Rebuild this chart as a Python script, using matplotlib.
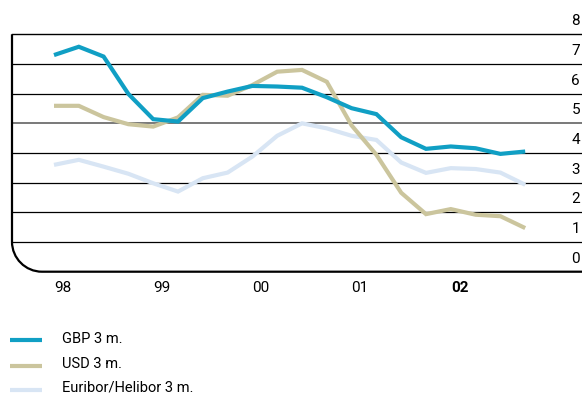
import matplotlib
matplotlib.use("Agg")
import matplotlib.pyplot as plt
import numpy as np
from matplotlib.path import Path
from matplotlib.patches import PathPatch

plt.rcParams["font.family"] = ["Roboto", "DejaVu Sans"]

# Quarterly 3-month interest rates, Q1 1998 .. Q4 2002 (%)
quarters = 1998 + np.arange(20) / 4
gbp = [7.30, 7.58, 7.25, 5.99, 5.14, 5.06, 5.85, 6.07, 6.26, 6.24,
       6.20, 5.88, 5.51, 5.31, 4.53, 4.14, 4.22, 4.16, 3.97, 4.05]
usd = [5.59, 5.59, 5.21, 4.97, 4.89, 5.20, 5.96, 5.93, 6.29, 6.74,
       6.80, 6.40, 4.93, 3.94, 2.66, 1.94, 2.11, 1.92, 1.87, 1.47]
euribor = [3.60, 3.77, 3.54, 3.30, 2.98, 2.70, 3.15, 3.34, 3.88, 4.58,
           5.00, 4.83, 4.58, 4.44, 3.68, 3.33, 3.49, 3.46, 3.34, 2.93]

years = [1998, 1999, 2000, 2001, 2002]
year_labels = ["98", "99", "00", "01", "02"]
y_ticks = [0, 1, 2, 3, 4, 5, 6, 7, 8]

series = [
    ("Euribor/Helibor 3 m.", euribor, "#d8e5f4"),
    ("USD 3 m.", usd, "#cbc59d"),
    ("GBP 3 m.", gbp, "#109fc4"),
]

W, H = 582, 394
fig = plt.figure(figsize=(W / 100, H / 100), dpi=100)
ax = fig.add_axes([12 / W, (H - 271.7) / H, 1 - 12 / W, (271.7 - 34.3) / H])
ax.set_xlim(1998 + (12 - 54) / 99.2, 1998 + (582 - 54) / 99.2)
ax.set_ylim(0, 8)
ax.axis("off")

# horizontal rules, the 5 % one in grey
for v in y_ticks[1:-1]:
    if v == 5:
        ax.axhline(v, color="#6e6e6e", lw=1.3, zorder=1)
    else:
        ax.axhline(v, color="black", lw=0.9, zorder=1)
ax.axhline(8, color="black", lw=1.0, zorder=1, clip_on=False)

# left edge with rounded bottom-left corner and heavier base line
rx, ry = 30 / 570, 30 / 237.4
k = 0.5523
frame = Path(
    [(0, 1), (0, ry), (0, ry * (1 - k)), (rx * (1 - k), 0), (rx, 0), (1, 0)],
    [Path.MOVETO, Path.LINETO, Path.CURVE4, Path.CURVE4, Path.CURVE4, Path.LINETO],
)
ax.add_patch(PathPatch(frame, transform=ax.transAxes, fill=False,
                       lw=1.6, edgecolor="black", clip_on=False, zorder=2))

for name, vals, color in series:
    ax.plot(quarters, vals, color=color, lw=3.0, solid_capstyle="butt",
            solid_joinstyle="miter", zorder=3)

# value labels sit just above each rule at the right edge
for v in y_ticks:
    ax.annotate(str(v), xy=(1, v), xycoords=("axes fraction", "data"),
                xytext=(-2, 13), textcoords="offset pixels",
                ha="right", va="center", fontsize=11, annotation_clip=False)

for yr, lab in zip(years, year_labels):
    ax.annotate(lab, xy=(yr, 0), xycoords="data",
                xytext=(0, -16.5), textcoords="offset pixels",
                ha="left", va="center", fontsize=11,
                fontweight="bold" if lab == "02" else "normal",
                annotation_clip=False)

# legend, drawn by hand below the chart
for i, (name, vals, color) in enumerate(reversed(series)):
    yc = 1 - [340, 365.5, 390][i] / H
    fig.add_artist(plt.Line2D([10 / W, 42 / W], [yc, yc], color=color, lw=3.0,
                              solid_capstyle="butt"))
    fig.text(62 / W, 1 - [339, 364, 388][i] / H, name, ha="left", va="center",
             fontsize=10.5)

fig.savefig("out.png", dpi=100)
